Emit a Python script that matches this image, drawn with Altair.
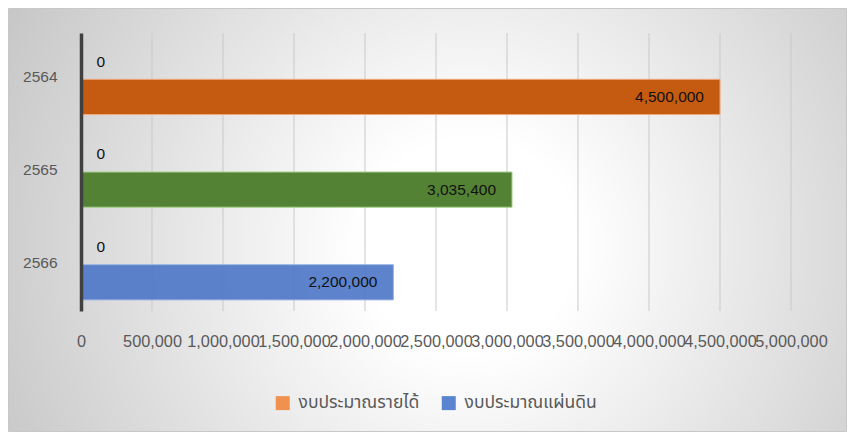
import altair as alt
import pandas as pd

# ---- data ----
years = ["2564", "2565", "2566"]
series_names = ["งบประมาณรายได้", "งบประมาณแผ่นดิน"]
revenue_budget = [4500000, 3035400, 2200000]   # งบประมาณรายได้
state_budget = [0, 0, 0]                       # งบประมาณแผ่นดิน
x_ticks = [0, 500000, 1000000, 1500000, 2000000, 2500000,
           3000000, 3500000, 4000000, 4500000, 5000000]

# colours
bar_fill = ["#c55a11", "#548235", "#4a76c6"]
bar_stroke = ["#f2a877", "#a9d18e", "#9db5e3"]
legend_colors = ["#f0914f", "#5a83d0"]

rows = []
for i, y in enumerate(years):
    rows.append({"year": y, "series": series_names[0], "value": revenue_budget[i]})
    rows.append({"year": y, "series": series_names[1], "value": state_budget[i]})
df = pd.DataFrame(rows)
ticks_df = pd.DataFrame({"value": x_ticks})
legend_df = pd.DataFrame({"series": series_names})

W, H = 710, 278
PAD = {"left": 73, "top": 25, "right": 56, "bottom": 121}
FONT = "Liberation Sans"
GREY = "#595959"

x_scale = alt.Scale(domain=[0, 5000000], nice=False, zero=True)
y_scale = alt.Scale(domain=years, paddingInner=0.24, paddingOuter=0.12)
yoff_scale = alt.Scale(domain=[series_names[1], series_names[0]], paddingInner=0, paddingOuter=0)

x_axis = alt.Axis(title=None, values=x_ticks, format=",d", labelFont=FONT,
                  labelFontSize=16.3, labelColor=GREY, labelPadding=22,
                  labelOverlap=False, labelFlush=False, domain=False,
                  ticks=False, tickSize=0, grid=False, zindex=1)
y_axis = alt.Axis(title=None, labelFont=FONT, labelFontSize=15.5,
                  labelColor=GREY, labelPadding=24, labelOffset=-2, ticks=False, tickSize=0,
                  domainColor="#404040", domainWidth=3.5, grid=False, zindex=1)

# background panel with a soft radial gradient
bg = alt.Chart(alt.Data(values=[{}])).mark_rect(
    fill=alt.RadialGradient(
        gradient="radial",
        stops=[alt.GradientStop(offset=0, color="#ffffff"),
               alt.GradientStop(offset=0.2, color="#ffffff"),
               alt.GradientStop(offset=1, color="#c4c4c4")],
        x1=0.55, y1=0.53, x2=0.55, y2=0.53, r1=0.0, r2=0.64),
    stroke="#c8c8c8", strokeWidth=1,
).encode(
    x=alt.value(-PAD["left"] + 0.5), x2=alt.value(W + PAD["right"] - 0.5),
    y=alt.value(-PAD["top"] + 0.5), y2=alt.value(H + PAD["bottom"] - 0.5),
)

grid = alt.Chart(ticks_df).mark_rule(color="#c9c9c9", strokeWidth=1).encode(
    x=alt.X("value:Q", scale=x_scale, axis=x_axis),
    y=alt.value(0), y2=alt.value(H),
)

base = alt.Chart(df).encode(
    y=alt.Y("year:N", scale=y_scale, sort=years, axis=y_axis),
    yOffset=alt.YOffset("series:N", scale=yoff_scale),
    x=alt.X("value:Q", scale=x_scale, axis=x_axis),
)

bars = base.mark_bar(strokeWidth=1).encode(
    fill=alt.Fill("year:N", scale=alt.Scale(domain=years, range=bar_fill), legend=None),
    stroke=alt.Stroke("year:N", scale=alt.Scale(domain=years, range=bar_stroke), legend=None),
    fillOpacity=alt.condition(alt.datum.year == "2566", alt.value(0.9), alt.value(1)),
).transform_filter(alt.datum.value > 0)

value_labels = base.mark_text(align="right", baseline="middle", dx=-16, font=FONT,
                              fontSize=15.5, color="#111111").encode(
    text=alt.Text("value:Q", format=",d")
).transform_filter(alt.datum.value > 0)

zero_labels = base.mark_text(align="left", baseline="middle", dx=15.5, font=FONT,
                             fontSize=15.5, color="#111111").encode(
    text=alt.Text("value:Q", format=",d")
).transform_filter(alt.datum.value == 0)

legend_layer = alt.Chart(legend_df).mark_square(opacity=0, size=1).encode(
    x=alt.value(0), y=alt.value(0),
    color=alt.Color("series:N", scale=alt.Scale(domain=series_names, range=legend_colors),
                    legend=alt.Legend(title=None, orient="none", legendX=193, legendY=361,
                                      direction="horizontal", symbolType="square",
                                      symbolSize=196, symbolOpacity=1, symbolStrokeWidth=0,
                                      labelFont="Noto Sans Thai, Tahoma, Noto Sans, sans-serif",
                                      labelFontSize=17.5, labelColor=GREY, labelOffset=7,
                                      columnPadding=20, padding=0, offset=0)),
)

chart = alt.layer(bg, grid, bars, value_labels, zero_labels, legend_layer).resolve_scale(
    color="independent"
).properties(
    width=W, height=H,
    autosize=alt.AutoSizeParams(type="none"),
    padding=PAD,
).configure_view(stroke=None).configure(background="#ffffff")

chart.save("out.html", embed_options={"renderer": "svg", "actions": False})
